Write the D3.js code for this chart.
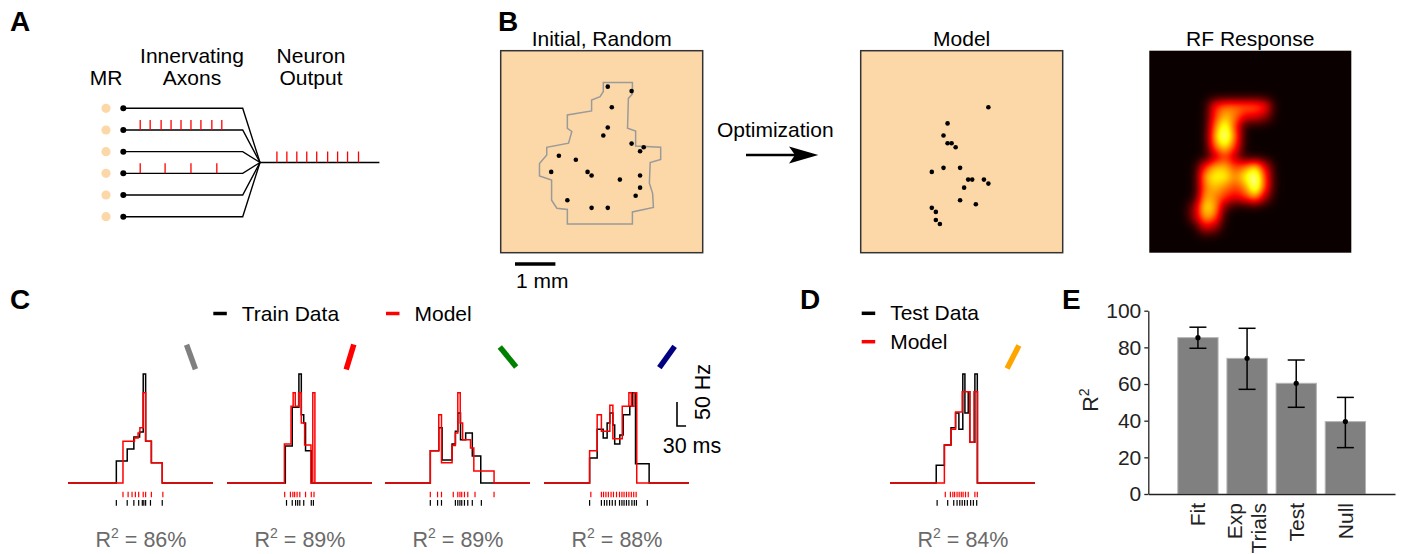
<!DOCTYPE html>
<html>
<head>
<meta charset="utf-8">
<script src="https://cdn.jsdelivr.net/npm/d3@7"></script>
<style>
  body { margin: 0; background: #fff; }
  svg text { font-family: "Liberation Sans", Arial, sans-serif; }
</style>
</head>
<body>
<script>
// ---------- A: schematic, spike times (ms) along each axon ----------
const axonSpikes = [[], [17, 27, 38, 48, 58, 68, 78, 89, 99], [], [17, 42, 68, 94], [], []];
const outputSpikes = [17, 27, 37, 47, 57, 68, 78, 88, 99];

// ---------- B: positions in mm ----------
const initialOutline = [[2.54,0.79],[3.26,0.79],[3.26,1.07],[3.16,1.18],[3.14,1.92],[3.34,1.99],[3.34,2.36],[3.96,2.39],
  [3.96,2.69],[3.70,2.77],[3.68,3.28],[3.76,3.53],[3.78,3.88],[3.26,3.99],[3.26,4.29],[1.65,4.29],[1.65,3.93],[1.39,3.90],
  [1.26,3.70],[1.26,3.20],[0.96,3.10],[0.96,2.79],[1.14,2.58],[1.14,2.39],[1.68,2.29],[1.76,2.00],[1.65,1.92],[1.65,1.59],
  [2.25,1.49],[2.25,1.22],[2.46,1.14],[2.54,1.01]];
const initialPoints = [[2.65,0.89],[3.24,1.00],[2.75,1.40],[2.65,1.90],[2.54,2.10],[3.24,2.30],[3.54,2.39],[3.45,2.49],
  [1.44,2.60],[1.86,2.70],[1.25,3.00],[2.15,3.00],[2.25,3.09],[2.95,3.19],[3.45,3.09],[3.45,3.39],[3.34,3.59],[1.65,3.70],
  [2.25,3.89],[2.65,3.89]];
const modelPoints = [[3.16,1.40],[2.15,1.80],[2.05,2.10],[2.15,2.29],[2.25,2.29],[2.35,2.39],[1.76,3.00],[2.05,2.90],
  [2.46,2.90],[2.66,3.19],[2.76,3.19],[3.05,3.19],[3.16,3.29],[2.56,3.39],[2.46,3.70],[2.85,3.80],[1.76,3.89],[1.86,3.99],
  [1.86,4.19],[1.96,4.29]];
// RF response, coarse 20x20 grid, 0..9
const rfGrid = [
  "00000000000000000000",
  "00000000000000000000",
  "00000000000000000000",
  "00000000000000000000",
  "00000000000000000000",
  "00000045555400000000",
  "00000046533200000000",
  "00000058400000000000",
  "00000069500000000000",
  "00000057400000000000",
  "00000024200000000000",
  "00000466457300000000",
  "00000677579400000000",
  "00000565459400000000",
  "00000654346200000000",
  "00002761000000000000",
  "00002650000000000000",
  "00000320000000000000",
  "00000000000000000000",
  "00000000000000000000"
];

// ---------- C / D: firing rate steps [ms, Hz] ----------
const trainData = [
  [[160,46],[196,71],[218,96],[237,106],[249,227],[257,87],[276,42],[312,0]],
  [[193,77],[216,158],[238,227],[246,142],[254,125],[260,67],[279,0]],
  [[150,67],[178,115],[189,48],[222,81],[233,108],[241,146],[250,90],[267,104],[289,56],[317,0]],
  [[151,52],[176,112],[196,94],[209,125],[218,146],[228,121],[234,81],[251,100],[262,142],[284,160],[292,188],[303,40],[348,0]]
];
const trainModel = [
  [[182,87],[220,94],[232,104],[238,115],[249,188],[257,87],[276,42],[312,0]],
  [[190,81],[212,160],[219,188],[226,160],[237,188],[246,125],[257,79],[278,0],[284,188],[291,0]],
  [[150,67],[178,142],[187,42],[222,78],[233,104],[241,188],[249,125],[257,90],[283,73],[294,25],[361,0]],
  [[151,67],[176,142],[190,108],[218,162],[228,92],[259,160],[281,188],[289,160],[298,188],[307,0]]
];
const trainDataSpikes = [
  [160,196,218,234,246,251,257,273,312],
  [197,216,227,234,241,254,279,286],
  [150,174,187,233,241,248,254,263,274,289,319],
  [151,190,200,208,217,226,236,250,258,265,273,281,291,299,306,342]
];
const trainModelSpikes = [
  [182,199,212,223,234,249,257,276,314],
  [191,210,218,224,232,241,260,279,288],
  [150,174,187,226,241,248,254,263,274,298,361],
  [155,190,197,205,213,222,230,240,250,258,265,273,281,289,297,305]
];
const trainR2 = [86, 89, 89, 88];
const trainAngles = [-20, 17, -39, 36];
const trainColors = ["#808080", "#ff0000", "#008000", "#000080"];

const testData = [[153,37],[180,79],[202,115],[217,146],[228,112],[241,227],[248,146],[259,190],[264,85],[281,227],[289,0]];
const testModel = [[180,79],[202,112],[217,148],[239,190],[264,85],[278,190],[290,0]];
const testDataSpikes = [156,191,211,222,231,239,247,256,267,276,287];
const testModelSpikes = [183,200,208,214,222,229,236,242,250,259,281,289];
const testR2 = 84;
const testAngle = 27;
const testColor = "#ffa500";

// ---------- E ----------
const eLabels = [["Fit"], ["Exp", "Trials"], ["Test"], ["Null"]];
const eMeans = [85.3, 74, 60.4, 39.5];
const eLow = [79.5, 57.1, 47.3, 25.3];
const eHigh = [91, 90.4, 73.1, 52.7];
const eTicks = [0, 20, 40, 60, 80, 100];

const svg = d3.select("body").append("svg")
  .attr("width", 1401).attr("height", 554).style("display", "block");

const RED = "#ff0000";
const PEACH = "#fcd8a8";

// panel letters
[["A", 10, 31], ["B", 498, 31], ["C", 10, 309], ["D", 800, 309], ["E", 1062, 309]].forEach(l => {
  svg.append("text").attr("x", l[1]).attr("y", l[2]).text(l[0])
    .style("font-size", "28px").style("font-weight", "bold");
});

///////////// A /////////////
const axonY = d3.scalePoint().domain(d3.range(6)).range([108.3, 216.7]);
const axonT = d3.scaleLinear().domain([0, 120]).range([123.3, 242.7]);
const outT = d3.scaleLinear().domain([0, 120]).range([260, 379.4]);
const conv = [260, 162.5];
const gA = svg.append("g");

gA.append("text").attr("x", 106).attr("y", 85).attr("text-anchor", "middle").style("font-size", "21px").text("MR");
gA.append("text").attr("x", 192).attr("y", 62.7).attr("text-anchor", "middle").style("font-size", "21px").text("Innervating");
gA.append("text").attr("x", 192).attr("y", 85).attr("text-anchor", "middle").style("font-size", "21px").text("Axons");
gA.append("text").attr("x", 311).attr("y", 62.7).attr("text-anchor", "middle").style("font-size", "21px").text("Neuron");
gA.append("text").attr("x", 311).attr("y", 85).attr("text-anchor", "middle").style("font-size", "21px").text("Output");

axonSpikes.forEach((spk, i) => {
  const yy = axonY(i);
  gA.append("path")
    .attr("d", `M${axonT(0)},${yy}H${axonT(120)}L${conv[0]},${conv[1]}`)
    .attr("fill", "none").attr("stroke", "#000").attr("stroke-width", 1.4);
  gA.append("circle").attr("cx", 106).attr("cy", yy).attr("r", 4.6).attr("fill", PEACH);
  gA.append("circle").attr("cx", axonT(0)).attr("cy", yy).attr("r", 3).attr("fill", "#000");
  gA.selectAll(null).data(spk).enter().append("line")
    .attr("x1", d => axonT(d)).attr("x2", d => axonT(d))
    .attr("y1", yy - 10).attr("y2", yy)
    .attr("stroke", RED).attr("stroke-width", 1.3);
});
gA.append("line").attr("x1", outT(0)).attr("x2", outT(120)).attr("y1", conv[1]).attr("y2", conv[1])
  .attr("stroke", "#000").attr("stroke-width", 1.4);
gA.selectAll(null).data(outputSpikes).enter().append("line")
  .attr("x1", d => outT(d)).attr("x2", d => outT(d))
  .attr("y1", conv[1] - 11).attr("y2", conv[1])
  .attr("stroke", RED).attr("stroke-width", 1.3);

///////////// B /////////////
const mm = d3.scaleLinear().domain([0, 5]).range([0, 202]);
const boxTop = 50.7;

function fieldBox(left, title, outline, pts) {
  const g = svg.append("g").attr("transform", `translate(${left},${boxTop})`);
  g.append("rect").attr("width", mm(5)).attr("height", mm(5))
    .attr("fill", PEACH).attr("stroke", "#333").attr("stroke-width", 1.5);
  if (outline) {
    g.append("path")
      .attr("d", d3.line().x(d => mm(d[0])).y(d => mm(d[1])).curve(d3.curveLinearClosed)(outline))
      .attr("fill", "none").attr("stroke", "#9a9a9a").attr("stroke-width", 1.5);
  }
  g.selectAll("circle").data(pts).enter().append("circle")
    .attr("cx", d => mm(d[0])).attr("cy", d => mm(d[1])).attr("r", 2.3).attr("fill", "#000");
  svg.append("text").attr("x", left + mm(5) / 2).attr("y", 46).attr("text-anchor", "middle")
    .style("font-size", "21px").text(title);
}
fieldBox(500.7, "Initial, Random", initialOutline, initialPoints);
fieldBox(860.7, "Model", null, modelPoints);

// scale bar 1 mm
svg.append("line").attr("x1", 515).attr("x2", 515 + mm(1)).attr("y1", 264).attr("y2", 264)
  .attr("stroke", "#000").attr("stroke-width", 3.5);
svg.append("text").attr("x", 516).attr("y", 288).style("font-size", "21px").text("1 mm");

// optimization arrow
svg.append("text").attr("x", 775.3).attr("y", 136.7).attr("text-anchor", "middle")
  .style("font-size", "21px").text("Optimization");
svg.append("line").attr("x1", 746).attr("x2", 800).attr("y1", 155).attr("y2", 155)
  .attr("stroke", "#000").attr("stroke-width", 2.5);
svg.append("path").attr("d", "M818.3,155L789,146.5L795,155L789,163.5Z").attr("fill", "#000");

// RF response heat map
function hot(t) {
  t = Math.max(0, Math.min(1, t));
  const r = Math.min(1, 0.0416 + t / 0.365 * (1 - 0.0416));
  const g = Math.max(0, Math.min(1, (t - 0.365) / (0.746 - 0.365)));
  const b = Math.max(0, Math.min(1, (t - 0.746) / (1 - 0.746)));
  return [r * 255, g * 255, b * 255];
}
(function () {
  const N = 202;
  const vals = rfGrid.map(r => r.split("").map(Number));
  const nR = vals.length, nC = vals[0].length;
  const cw = N / nC, ch = N / nR;
  const sig = 6;
  const canvas = document.createElement("canvas");
  canvas.width = N; canvas.height = N;
  const ctx = canvas.getContext("2d");
  const img = ctx.createImageData(N, N);
  const wx = [], wy = [];
  for (let p = 0; p < N; p++) {
    wx.push(d3.range(nC).map(j => Math.exp(-Math.pow(p + 0.5 - (j + 0.5) * cw, 2) / (2 * sig * sig))));
    wy.push(d3.range(nR).map(i => Math.exp(-Math.pow(p + 0.5 - (i + 0.5) * ch, 2) / (2 * sig * sig))));
  }
  for (let py = 0; py < N; py++) {
    for (let px = 0; px < N; px++) {
      let num = 0, den = 0;
      for (let i = 0; i < nR; i++) {
        const a = wy[py][i];
        if (a < 1e-6) continue;
        for (let j = 0; j < nC; j++) {
          const w = a * wx[px][j];
          num += w * vals[i][j];
          den += w;
        }
      }
      const c = hot(num / den / 9);
      const k = (py * N + px) * 4;
      img.data[k] = c[0]; img.data[k + 1] = c[1]; img.data[k + 2] = c[2]; img.data[k + 3] = 255;
    }
  }
  ctx.putImageData(img, 0, 0);
  svg.append("image").attr("x", 1149.3).attr("y", boxTop).attr("width", N).attr("height", N)
    .attr("href", canvas.toDataURL());
  svg.append("text").attr("x", 1149.3 + N / 2).attr("y", 46).attr("text-anchor", "middle")
    .style("font-size", "21px").text("RF Response");
})();

///////////// C & D traces /////////////
const traceW = 145;
const rateY = d3.scaleLinear().domain([0, 250]).range([483, 363]);

function tracePanel(left, dSteps, mSteps, dSpk, mSpk, r2, angle, color) {
  const x = d3.scaleLinear().domain([0, 480]).range([left, left + traceW]);
  const line = d3.line().x(d => x(d[0])).y(d => rateY(d[1])).curve(d3.curveStepAfter);
  const full = s => [[0, 0]].concat(s, [[480, 0]]);
  svg.append("path").attr("d", line(full(dSteps)))
    .attr("fill", "none").attr("stroke", "#000").attr("stroke-width", 1.5);
  svg.append("path").attr("d", line(full(mSteps)))
    .attr("fill", "none").attr("stroke", RED).attr("stroke-width", 1.5);

  svg.append("g").selectAll("line").data(mSpk).enter().append("line")
    .attr("x1", d => x(d)).attr("x2", d => x(d)).attr("y1", 491.7).attr("y2", 497.3)
    .attr("stroke", RED).attr("stroke-width", 1.2);
  svg.append("g").selectAll("line").data(dSpk).enter().append("line")
    .attr("x1", d => x(d)).attr("x2", d => x(d)).attr("y1", 500).attr("y2", 505.7)
    .attr("stroke", "#000").attr("stroke-width", 1.2);

  const t = svg.append("text").attr("x", left + 73).attr("y", 547)
    .attr("text-anchor", "middle").attr("fill", "#6a6a6a").style("font-size", "21.5px");
  t.append("tspan").text("R");
  t.append("tspan").attr("dy", -9).style("font-size", "14px").text("2");
  t.append("tspan").attr("dy", 9).text(` = ${r2}%`);

  svg.append("line").attr("x1", 0).attr("x2", 0).attr("y1", -13).attr("y2", 13)
    .attr("transform", `translate(${left + 123},357) rotate(${angle})`)
    .attr("stroke", color).attr("stroke-width", 5.5);
  return x;
}

const trainLefts = [68, 227, 385, 544];
let lastX;
trainData.forEach((d, i) => {
  lastX = tracePanel(trainLefts[i], d, trainModel[i], trainDataSpikes[i], trainModelSpikes[i],
    trainR2[i], trainAngles[i], trainColors[i]);
});
tracePanel(890, testData, testModel, testDataSpikes, testModelSpikes, testR2, testAngle, testColor);

// scale bar 50 Hz / 30 ms
const sbx = 677, sby = 426;
svg.append("path")
  .attr("d", `M${sbx},${sby - (rateY(0) - rateY(50))}V${sby}H${sbx + (lastX(30) - lastX(0))}`)
  .attr("fill", "none").attr("stroke", "#000").attr("stroke-width", 1.6);
svg.append("text").attr("transform", "translate(710,392) rotate(-90)").attr("text-anchor", "middle")
  .style("font-size", "21.5px").text("50 Hz");
svg.append("text").attr("x", 692).attr("y", 452.7).attr("text-anchor", "middle")
  .style("font-size", "21.5px").text("30 ms");

// legends
function legendItem(x, y, color, label) {
  svg.append("line").attr("x1", x).attr("x2", x + 13.5).attr("y1", y).attr("y2", y)
    .attr("stroke", color).attr("stroke-width", 3.5);
  svg.append("text").attr("x", x + 28.5).attr("y", y + 7).style("font-size", "21px").text(label);
}
legendItem(213.3, 313.5, "#000", "Train Data");
legendItem(386, 313.5, RED, "Model");
legendItem(861.7, 313.3, "#000", "Test Data");
legendItem(861.7, 341.7, RED, "Model");

///////////// E /////////////
const ex = d3.scaleBand().domain(d3.range(eMeans.length)).range([1148.3, 1395])
  .paddingInner(0.18).paddingOuter(0.6);
const ey = d3.scaleLinear().domain([0, 100]).range([494, 310.7]);
const gE = svg.append("g");

gE.selectAll("rect").data(eMeans).enter().append("rect")
  .attr("x", (d, i) => ex(i)).attr("width", ex.bandwidth())
  .attr("y", d => ey(d)).attr("height", d => ey(0) - ey(d))
  .attr("fill", "#808080").attr("stroke", "#b5b5b5").attr("stroke-width", 1);

const errs = eMeans.map((m, i) => ({ i, m, lo: eLow[i], hi: eHigh[i] }));
const eb = gE.selectAll("g.err").data(errs).enter().append("g")
  .attr("transform", d => `translate(${ex(d.i) + ex.bandwidth() / 2},0)`);
eb.append("line").attr("y1", d => ey(d.lo)).attr("y2", d => ey(d.hi)).attr("stroke", "#000").attr("stroke-width", 1.5);
eb.append("line").attr("x1", -8.5).attr("x2", 8.5).attr("y1", d => ey(d.lo)).attr("y2", d => ey(d.lo)).attr("stroke", "#000").attr("stroke-width", 1.5);
eb.append("line").attr("x1", -8.5).attr("x2", 8.5).attr("y1", d => ey(d.hi)).attr("y2", d => ey(d.hi)).attr("stroke", "#000").attr("stroke-width", 1.5);
eb.append("circle").attr("cy", d => ey(d.m)).attr("r", 2.6).attr("fill", "#000");

const yAx = gE.append("g").attr("transform", "translate(1148.3,0)")
  .call(d3.axisLeft(ey).tickValues(eTicks).tickSize(4).tickSizeOuter(0).tickPadding(3));
yAx.attr("font-family", null).attr("font-size", null);
yAx.selectAll("text").style("font-size", "21px").attr("fill", "#222");
yAx.selectAll("line, path").attr("stroke", "#222").attr("stroke-width", 1.3);

const xAx = gE.append("g").attr("transform", "translate(0,494)")
  .call(d3.axisBottom(ex).tickSize(0).tickSizeOuter(0).tickFormat(""));
xAx.selectAll("path").attr("stroke", "#222").attr("stroke-width", 1.3);

eLabels.forEach((lines, i) => {
  const cx = ex(i) + ex.bandwidth() / 2;
  const t = gE.append("text").attr("transform", `translate(${cx},503) rotate(-90)`)
    .attr("text-anchor", "end").style("font-size", "21px").attr("fill", "#222");
  lines.forEach((s, k) => {
    const off = (k - (lines.length - 1) / 2) * 24;
    t.append("tspan").attr("x", 0).attr("y", off).attr("dy", "0.35em").text(s);
  });
});

const yl = gE.append("text").attr("transform", "translate(1098,400) rotate(-90)")
  .attr("text-anchor", "middle").style("font-size", "21.5px").attr("fill", "#222");
yl.append("tspan").text("R");
yl.append("tspan").attr("dy", -9).style("font-size", "14px").text("2");
</script>
</body>
</html>
